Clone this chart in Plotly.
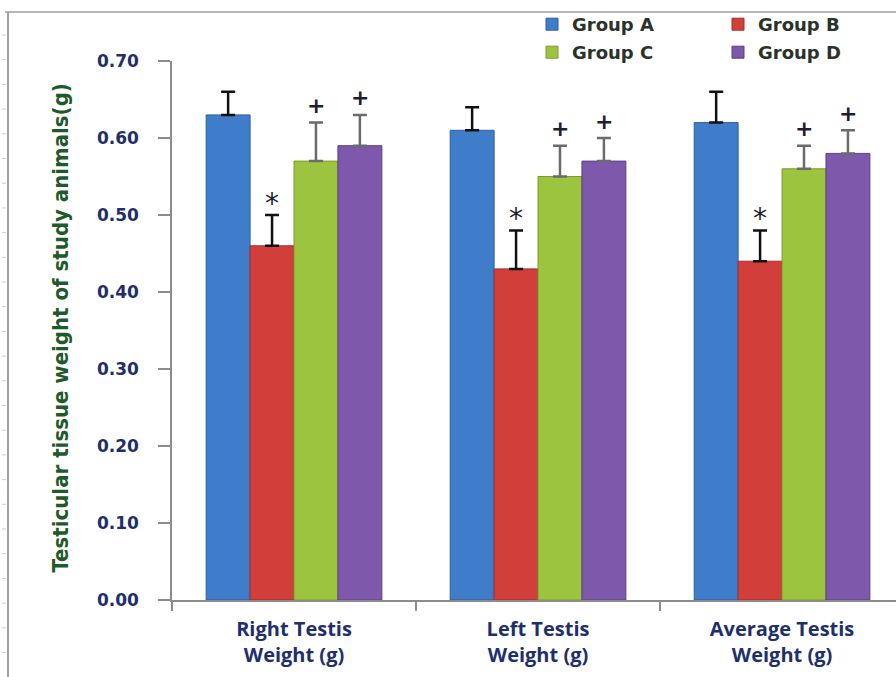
import plotly.graph_objects as go

# Testis weights per group (g): mean and upper SD
categories = ["Right Testis<br>Weight (g)", "Left Testis<br>Weight (g)", "Average Testis<br>Weight (g)"]
groups = ["Group A", "Group B", "Group C", "Group D"]
means = {
    "Group A": [0.63, 0.61, 0.62],
    "Group B": [0.46, 0.43, 0.44],
    "Group C": [0.57, 0.55, 0.56],
    "Group D": [0.59, 0.57, 0.58],
}
errors = {
    "Group A": [0.03, 0.03, 0.04],
    "Group B": [0.04, 0.05, 0.04],
    "Group C": [0.05, 0.04, 0.03],
    "Group D": [0.04, 0.03, 0.03],
}
# significance markers drawn above the error bars
marks = {"Group B": "*", "Group C": "+", "Group D": "+"}

colors = {"Group A": "#3f7dcb", "Group B": "#d23f3b", "Group C": "#9dc43f", "Group D": "#7e58aa"}
edge = {"Group A": "#2d5f9e", "Group B": "#a32d2a", "Group C": "#7a9a2e", "Group D": "#5e3f84"}
err_col = {"Group A": "#111111", "Group B": "#111111", "Group C": "#6b6b6b", "Group D": "#6b6b6b"}
legend_of = {"Group A": "legend", "Group B": "legend", "Group C": "legend2", "Group D": "legend2"}

W, H = 896, 677
ML, MR, MT, MB = 172, 0, 61, 77
PW, PH = W - ML - MR, H - MT - MB

fig = go.Figure()
for g in groups:
    fig.add_trace(go.Bar(
        name=g, x=categories, y=means[g],
        marker=dict(color=colors[g], line=dict(color=edge[g], width=1)),
        error_y=dict(type="data", array=errors[g], symmetric=False, arrayminus=[0] * 3,
                     color=err_col[g], thickness=2.5, width=7),
        legend=legend_of[g],
    ))

# annotations above error bars
bar_px = PW / 2.967 * 0.72 / 4
annotations = []
for j, g in enumerate(groups):
    if g not in marks:
        continue
    for i, c in enumerate(categories):
        top = means[g][i] + errors[g][i]
        annotations.append(dict(
            x=c, y=top, xref="x", yref="y", text=marks[g], showarrow=False,
            xshift=(j - 1.5) * bar_px, yshift=17 if marks[g] == "+" else 12,
            yanchor="middle",
            font=dict(family="DejaVu Sans", size=22 if marks[g] == "+" else 28,
                      color="#1e1e2e", weight="bold" if marks[g] == "+" else "normal"),
        ))

# y-axis title
annotations.append(dict(
    x=(45 - ML) / PW, y=1 - (328 - MT) / PH, xref="paper", yref="paper",
    text="Testicular tissue weight of study animals(g)", textangle=-90, showarrow=False,
    font=dict(family="DejaVu Sans Condensed, Liberation Sans", size=22, color="#1f5a2a",
              weight="bold"),
))

def px_x(px):
    return (px - ML) / PW

def px_y(py):
    return 1 - (py - MT) / PH

shapes = [
    # outer frame
    dict(type="line", xref="paper", yref="paper", x0=px_x(5), x1=px_x(W), y0=px_y(12), y1=px_y(12),
         line=dict(color="#a0a0a0", width=1.5)),
    dict(type="line", xref="paper", yref="paper", x0=px_x(8), x1=px_x(8), y0=px_y(12), y1=px_y(H),
         line=dict(color="#a0a0a0", width=2)),
]
for k in range(26):
    py = 35 + k * 24.7
    if py > H:
        break
    shapes.append(dict(type="line", xref="paper", yref="paper", x0=px_x(2), x1=px_x(6),
                       y0=px_y(py), y1=px_y(py), line=dict(color="#c8ccd8", width=1)))

legend_font = dict(family="DejaVu Sans", size=18, color="#2a332a", weight="bold")
fig.update_layout(
    width=W, height=H,
    margin=dict(l=ML, r=MR, t=MT, b=MB, autoexpand=False),
    paper_bgcolor="white", plot_bgcolor="white",
    barmode="group", bargap=0.28, bargroupgap=0,
    showlegend=True,
    legend=dict(orientation="h", x=px_x(532), y=px_y(6), xanchor="left", yanchor="top",
                font=legend_font, entrywidth=141, bgcolor="rgba(0,0,0,0)", traceorder="normal"),
    legend2=dict(orientation="h", x=px_x(532), y=px_y(34), xanchor="left", yanchor="top",
                 font=legend_font, entrywidth=141, bgcolor="rgba(0,0,0,0)", traceorder="normal"),
    xaxis=dict(type="category", range=[-0.5, 2.467], showline=True, linecolor="#8c8c8c",
               linewidth=1.5, ticks="outside", tickson="boundaries", ticklen=9,
               tickcolor="#8c8c8c", tickwidth=1.5, showgrid=False, ticklabelstandoff=10,
               tickfont=dict(family="Open Sans", size=20, color="#1f2f6e", weight="bold")),
    yaxis=dict(range=[0, 0.70], dtick=0.10, tickformat=".2f", showline=True, linecolor="#8c8c8c",
               linewidth=1.5, ticks="outside", ticklen=12, tickcolor="#8c8c8c", tickwidth=1.5,
               showgrid=False, zeroline=False, ticklabelstandoff=16,
               tickfont=dict(family="DejaVu Sans", size=17, color="#1f2f6e", weight="bold")),
    annotations=annotations,
    shapes=shapes,
)

fig.write_html("out.html")
